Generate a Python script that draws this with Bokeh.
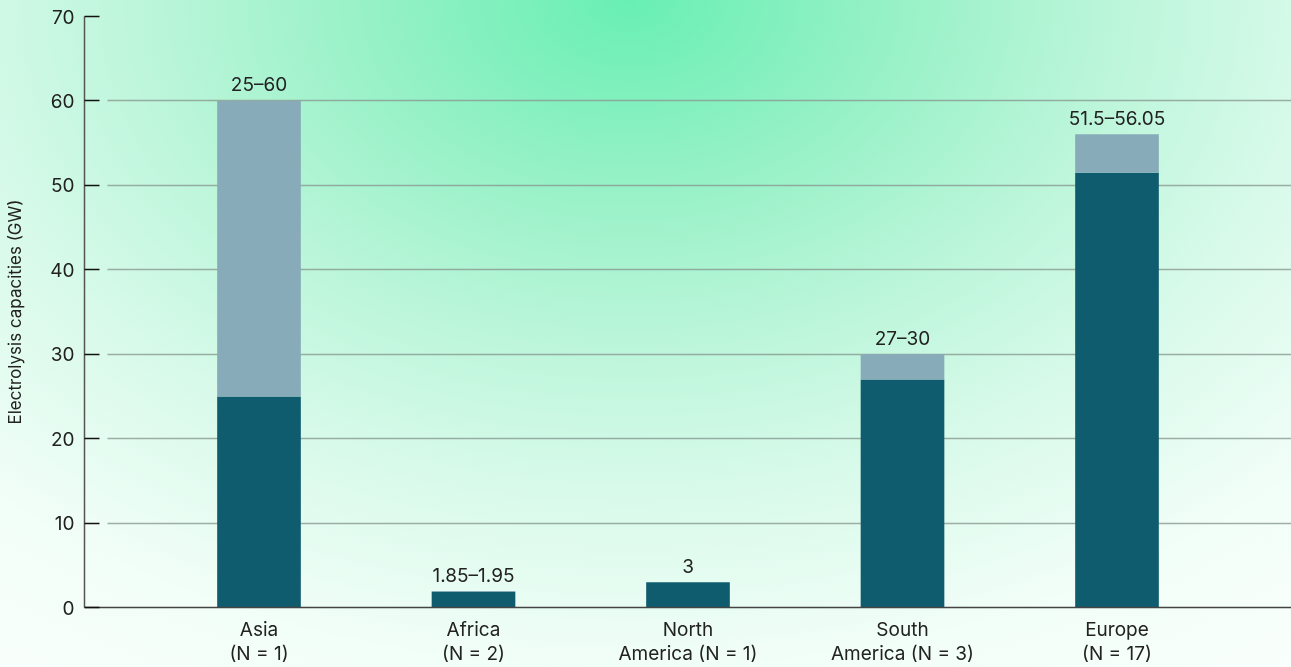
from bokeh.plotting import figure
from bokeh.models import Range1d, FixedTicker, ColumnDataSource
from bokeh.core.properties import value
from bokeh.embed import file_html
from bokeh.resources import INLINE

regions = ["Asia\n(N = 1)", "Africa\n(N = 2)", "North\nAmerica (N = 1)",
           "South\nAmerica (N = 3)", "Europe\n(N = 17)"]
low = [25, 1.85, 3, 27, 51.5]
high = [60, 1.95, 3, 30, 56.05]
range_labels = ["25–60", "1.85–1.95", "3", "27–30", "51.5–56.05"]
y_ticks = [0, 10, 20, 30, 40, 50, 60, 70]

FONT = "Inter"
DARK = "#0f5c6f"
LIGHT = "#87abb8"
TXT = "#222222"

src = ColumnDataSource(dict(region=regions, low=low, high=high, lab=range_labels))

p = figure(x_range=regions, y_range=Range1d(0, 70), width=1291, height=667,
           output_backend="svg", toolbar_location=None,
           min_border_left=84, min_border_right=0, min_border_top=16, min_border_bottom=60)
p.x_range.range_padding = 0.1254

p.background_fill_color = None
p.border_fill_color = None
p.outline_line_color = None
p.styles = {
    "position": "fixed", "left": "0px", "top": "0px",
    "background-image": "radial-gradient(ellipse 1150px 820px at 630px 0px, #68efb3 0%, #95f1c6 22%, #b8f5d8 40%, #d8faea 60%, #f2fef8 82%, #f9fffc 100%)",
}

p.vbar(x="region", bottom=0, top="low", width=0.39, source=src,
       fill_color=DARK, line_color=None)
p.vbar(x="region", bottom="low", top="high", width=0.39, source=src,
       fill_color=LIGHT, line_color=None)
p.text(x="region", y="high", text="lab", source=src, text_align="center",
       text_baseline="middle", y_offset=-16, text_font=value(FONT),
       text_font_size="19px", text_color=TXT)

# grid
p.xgrid.grid_line_color = None
p.ygrid.ticker = FixedTicker(ticks=y_ticks)
p.ygrid.grid_line_color = "#8a9a92"
p.ygrid.grid_line_alpha = 0.8
p.ygrid.grid_line_width = 1.3
p.ygrid.grid_line_dash = "4000 23"
p.ygrid.grid_line_dash_offset = 4000

# y axis
ya = p.yaxis[0]
ya.ticker = FixedTicker(ticks=y_ticks)
ya.axis_label = "Electrolysis capacities (GW)"
ya.axis_label_text_font = FONT
ya.axis_label_text_font_style = "normal"
ya.axis_label_text_font_size = "17px"
ya.axis_label_text_color = TXT
ya.axis_label_standoff = 22
ya.major_label_text_font = FONT
ya.major_label_text_font_size = "19px"
ya.major_label_text_color = TXT
ya.major_label_standoff = 10
ya.major_tick_in = 15
ya.major_tick_out = 0
ya.major_tick_line_color = "#111111"
ya.major_tick_line_width = 1.5
ya.minor_tick_line_color = None
ya.axis_line_color = "#555555"
ya.axis_line_width = 1.5

# x axis
xa = p.xaxis[0]
xa.major_label_text_font = FONT
xa.major_label_text_font_size = "19px"
xa.major_label_text_color = TXT
xa.major_label_text_line_height = 1.05
xa.major_label_standoff = 10
xa.major_tick_in = 0
xa.major_tick_out = 0
xa.axis_line_color = "#444444"
xa.axis_line_width = 1.5

open("out.html", "w").write(file_html(p, INLINE))
